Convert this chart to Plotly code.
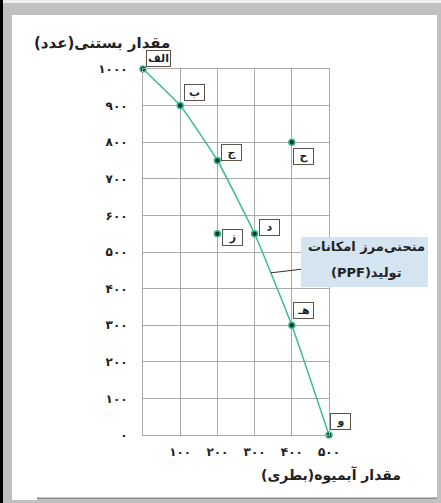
import plotly.graph_objects as go

# PPF curve points (juice bottles, ice cream count)
ppf_labels = ["الف", "ب", "ج", "د", "هـ", "و"]
ppf_juice = [0, 100, 200, 300, 400, 500]
ppf_icecream = [1000, 900, 750, 550, 300, 0]

# points off the curve
off_labels = ["ز", "ح"]
off_juice = [200, 400]
off_icecream = [550, 800]

x_tickvals = [100, 200, 300, 400, 500]
x_ticktext = ["۱۰۰", "۲۰۰", "۳۰۰", "۴۰۰", "۵۰۰"]
y_tickvals = [0, 100, 200, 300, 400, 500, 600, 700, 800, 900, 1000]
y_ticktext = ["۰", "۱۰۰", "۲۰۰", "۳۰۰", "۴۰۰", "۵۰۰", "۶۰۰", "۷۰۰", "۸۰۰", "۹۰۰", "۱۰۰۰"]

RLE, PDF = "\u202b", "\u202c"
FONT = "DejaVu Sans"
TEAL = "#3dbb96"
GRID = "#a9a9a9"

fig = go.Figure()

fig.add_trace(go.Scatter(
    x=ppf_juice, y=ppf_icecream, mode="lines+markers",
    line=dict(color=TEAL, width=1.5, shape="spline", smoothing=0.4),
    marker=dict(size=6, color="#0c3b2e", line=dict(color=TEAL, width=1.5)),
    cliponaxis=False, hoverinfo="skip"
))
fig.add_trace(go.Scatter(
    x=off_juice, y=off_icecream, mode="markers",
    marker=dict(size=6, color="#0c3b2e", line=dict(color=TEAL, width=1.5)),
    cliponaxis=False, hoverinfo="skip"
))

# label box placement: (xshift, yshift, yanchor)
label_pos = {
    "الف": (3, 2, "bottom"), "ب": (4, 5, "bottom"), "ج": (4, 0, "bottom"),
    "د": (4, -2, "bottom"), "هـ": (1, 6, "bottom"), "و": (1, 5, "bottom"),
    "ز": (5, 5, "top"), "ح": (1, -6, "top"),
}
for lab, xv, yv in zip(ppf_labels + off_labels, ppf_juice + off_juice, ppf_icecream + off_icecream):
    dx, dy, ya = label_pos[lab]
    fig.add_annotation(
        x=xv, y=yv, text=lab, showarrow=False,
        xanchor="left", yanchor=ya, xshift=dx, yshift=dy,
        width=21 if lab == "الف" else 17, height=13, align="center",
        font=dict(family=FONT, size=11, color="#222", weight="bold"),
        bgcolor="white", bordercolor="#5b524a", borderwidth=1, borderpad=1
    )

# PPF callout box with leader line to the curve
fig.add_annotation(
    x=343, y=443, text=" ", showarrow=True, arrowhead=0, arrowwidth=1,
    arrowcolor="#333", ax=94, ay=-11, width=125, height=48,
    bgcolor="#d5e4f1", borderwidth=0
)
fig.add_annotation(
    xref="paper", yref="paper", x=1.199, y=0.516, xanchor="center", yanchor="middle",
    showarrow=False, text="منحنی\u200cمرز امکانات",
    font=dict(family=FONT, size=13, color="#222", weight="bold")
)
fig.add_annotation(
    xref="paper", yref="paper", x=1.199, y=0.445, xanchor="center", yanchor="middle",
    showarrow=False, text=RLE + "تولید(PPF)" + PDF,
    font=dict(family=FONT, size=13, color="#222", weight="bold")
)

# axis titles
fig.add_annotation(
    xref="paper", yref="paper", x=0.156, y=1.071, xanchor="right", yanchor="middle",
    showarrow=False, text=RLE + "مقدار بستنی(عدد)" + PDF,
    font=dict(family=FONT, size=15, color="#222", weight="bold")
)
fig.add_annotation(
    xref="paper", yref="paper", x=1.398, y=-0.109, xanchor="right", yanchor="middle",
    showarrow=False, text=RLE + "مقدار آبمیوه(بطری)" + PDF,
    font=dict(family=FONT, size=14, color="#222", weight="bold")
)

# page frame
fig.add_shape(type="rect", xref="paper", yref="paper", x0=-0.7043, x1=1.5806,
              y0=-0.1776, y1=1.1475, fillcolor="white", line_width=0, layer="below")
fig.add_shape(type="rect", xref="paper", yref="paper", x0=-0.7688, x1=1.6022,
              y0=1.1803, y1=1.1885, fillcolor="#efefef", line_width=0, layer="below")
fig.add_shape(type="rect", xref="paper", yref="paper", x0=-0.7688, x1=-0.7527,
              y0=-0.1858, y1=1.1885, fillcolor="black", line_width=0, layer="below")
fig.add_shape(type="line", xref="paper", yref="paper", x0=-0.5699, x1=1.5806,
              y0=-0.1735, y1=-0.1735, line=dict(color="#8d8883", width=2))

fig.update_xaxes(
    range=[0, 500], tickvals=x_tickvals, ticktext=x_ticktext,
    showgrid=True, gridcolor=GRID, gridwidth=1, zeroline=False,
    showline=True, mirror=True, linecolor=GRID, linewidth=1,
    ticks="", ticklabelstandoff=6,
    tickfont=dict(family=FONT, size=12, color="#222", weight="bold"),
    fixedrange=True
)
fig.update_yaxes(
    range=[0, 1000], tickvals=y_tickvals, ticktext=y_ticktext,
    showgrid=True, gridcolor=GRID, gridwidth=1, zeroline=False,
    showline=True, mirror=True, linecolor=GRID, linewidth=1,
    ticks="", ticklabelstandoff=12,
    tickfont=dict(family=FONT, size=12, color="#222", weight="bold"),
    fixedrange=True
)

fig.update_layout(
    width=441, height=503, showlegend=False,
    margin=dict(l=143, r=112, t=69, b=68, autoexpand=False),
    paper_bgcolor="#c0c0c0", plot_bgcolor="white",
    font=dict(family=FONT)
)

fig.write_html("out.html", config={"displayModeBar": False},
               post_script="document.body.style.margin='0';")
